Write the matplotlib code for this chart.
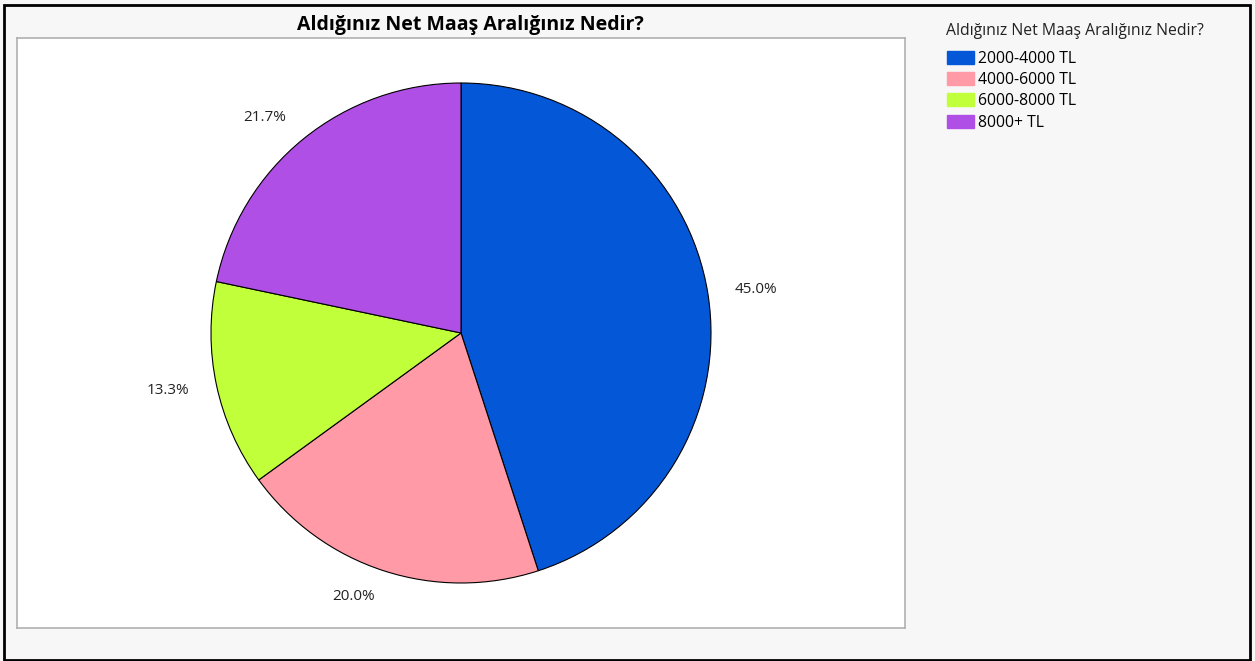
import matplotlib
matplotlib.use("Agg")
import numpy as np
import matplotlib.pyplot as plt
from matplotlib.patches import Rectangle, Patch

categories = ["2000-4000 TL", "4000-6000 TL", "6000-8000 TL", "8000+ TL"]
values = [45.0, 20.0, 13.3, 21.7]
colors = ["#0457d6", "#ff9aa6", "#c1ff3a", "#b04fe6"]
title = "Aldığınız Net Maaş Aralığınız Nedir?"

plt.rcParams['font.family'] = ['Open Sans', 'DejaVu Sans']

W, H = 1255, 661
fig = plt.figure(figsize=(W/100, H/100), dpi=100)
fig.patch.set_facecolor("#f7f7f7")

# outer border
fig.add_artist(Rectangle((4/W, 1-660/H), 1246/W, 655/H, transform=fig.transFigure,
                         fill=False, edgecolor="black", linewidth=2))

ax = fig.add_axes([17/W, 1-628/H, 888/W, 590/H])

wedges, texts = ax.pie(values, colors=colors, startangle=90, counterclock=False,
       frame=True, wedgeprops=dict(edgecolor="black", linewidth=0.8))
ax.set_facecolor("white")
for s in ax.spines.values():
    s.set_visible(True)
    s.set_edgecolor("#b0b0b0")
    s.set_linewidth(1.2)
ax.set_xticks([]); ax.set_yticks([])
ax.set_xlim(-444/250, 444/250)
ax.set_ylim(-295/250, 295/250)
ax.set_aspect('auto')

total = sum(values)
for w, v in zip(wedges, values):
    ang = np.deg2rad((w.theta1 + w.theta2) / 2)
    c, s = np.cos(ang), np.sin(ang)
    ha = "left" if c > 0 else "right"
    ax.text(1.11*c, 1.11*s, f"{100*v/total:.1f}%", ha=ha, va="center",
            fontsize=11, color="#222222")

fig.text(470/W, 1-25/H, title, ha="center", va="center", fontsize=14, fontweight="bold")

# legend title and entries
fig.text(946/W, 1-31/H, title, ha="left", va="center", fontsize=11.3, color="#222222")
handles = [Patch(facecolor=c, edgecolor=c) for c in colors]
leg = fig.legend(handles, categories, loc="upper left",
                 bbox_to_anchor=(947/W, 1-51/H), frameon=False, fontsize=11.3,
                 handlelength=1.75, handleheight=0.9, borderpad=0,
                 handletextpad=0.2, labelspacing=0.33, borderaxespad=0)

fig.savefig("out.png", dpi=100, facecolor=fig.get_facecolor())
